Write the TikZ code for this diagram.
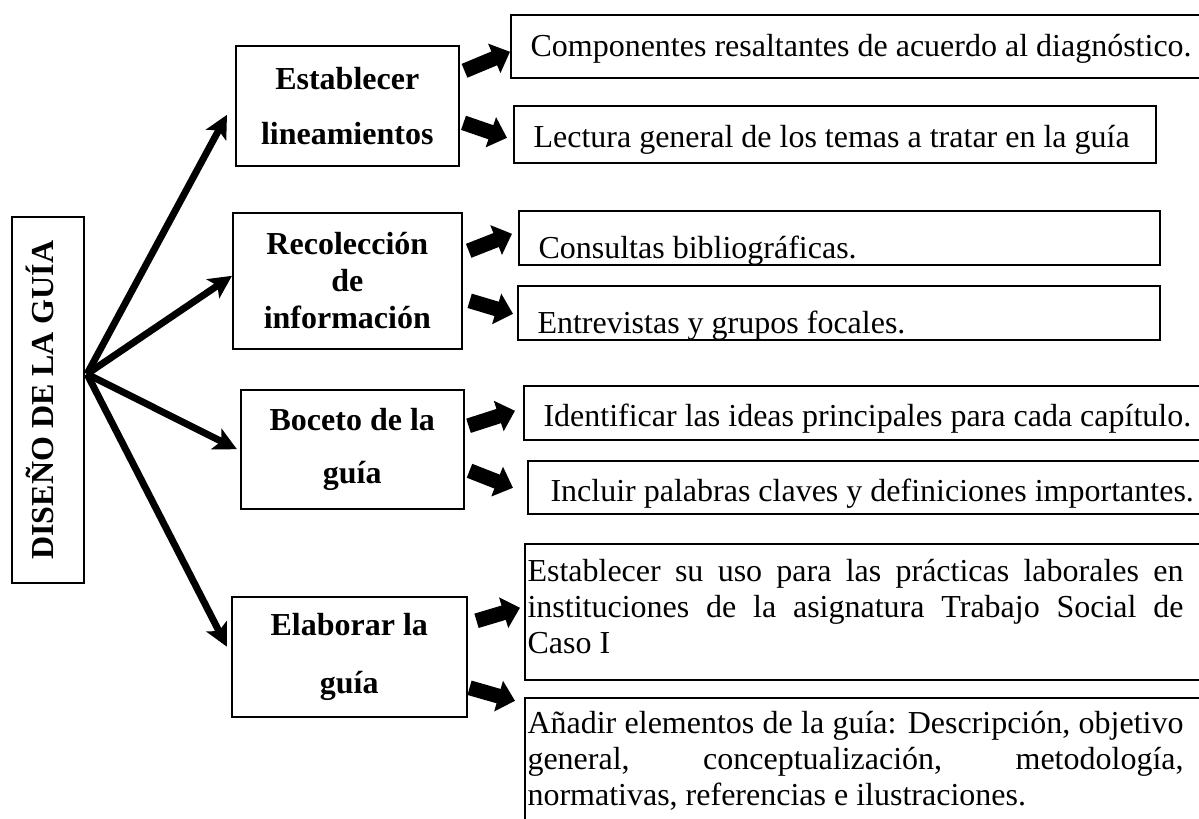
\documentclass[tikz,border=0pt]{standalone}
\usepackage{fontspec}
\setmainfont{Liberation Serif}
\usetikzlibrary{calc,arrows.meta}
\tikzset{
  frame/.style={draw=black, line width=0.6pt, inner sep=0pt},
  topic/.style={frame, anchor=north west, align=center},
  leaf/.style={frame, anchor=north west},
  leaftext/.style={anchor=base west, inner sep=0pt, font=\fontsize{12}{13.5}\selectfont},
  leafpar/.style={leaftext, text width=246pt, align=justify},
  mainarrow/.style={line width=2.6pt, -{Stealth[length=8.6pt,width=8.5pt,inset=2pt]}},
  blockarrow/.style={line width=5.6pt, -{Triangle[length=6.4pt,width=11.6pt]}},
}

\begin{document}
\begin{tikzpicture}[x=0.375pt,y=-0.375pt]
  \useasboundingbox (0,0) rectangle (1199,819);
  \clip (0,0) rectangle (1199,819);

  % root
  \node[frame, rotate=90, minimum width=137.25pt, minimum height=27pt,
    font=\bfseries\fontsize{12}{14}\selectfont, text height=8pt, text depth=4pt]
    (root) at (48,400) {DISEÑO DE LA GUÍA};
  \coordinate (hub) at (87,374);

  % second level
  \node[topic, minimum width=83.6pt, minimum height=45pt,
    font=\bfseries\fontsize{12}{20.6}\selectfont] (est) at (235,45) {Establecer\\lineamientos};
  \node[topic, minimum width=85.9pt, minimum height=51pt,
    font=\bfseries\fontsize{12}{13.9}\selectfont] (rec) at (232,212) {Recolección\\de\\información};
  \node[topic, minimum width=83.6pt, minimum height=44.6pt,
    font=\bfseries\fontsize{12}{19.9}\selectfont] (bos) at (240,389) {Boceto de la\\guía};
  \node[topic, minimum width=88.1pt, minimum height=45pt,
    font=\bfseries\fontsize{12}{21.7}\selectfont] (ela) at (231,596) {Elaborar la\\guía};

  \draw[mainarrow] (hub) -- ($(est.west)+(-8,9)$);
  \draw[mainarrow] (hub) -- ($(rec.west)+(0,-5)$);
  \draw[mainarrow] (hub) -- ($(bos.west)+(-3,0)$);
  \draw[mainarrow] (hub) -- ($(ela.west)+(-4,-10)$);

  % third level
  \node[leaf, minimum width=264.4pt, minimum height=23.6pt] (comp) at (510,14) {};
  \node[leaftext] (comptext) at ($(comp.south west)+(20,-22)$) {Componentes resaltantes de acuerdo al diagnóstico.};
  \node[leaf, minimum width=240.75pt, minimum height=21.4pt] (lect) at (513,105) {};
  \node[leaftext] (lecttext) at ($(lect.south west)+(20,-16)$) {Lectura general de los temas a tratar en la guía};

  \node[leaf, minimum width=240.4pt, minimum height=20.25pt] (cons) at (518,210) {};
  \begin{scope}
    \clip (cons.north west) rectangle (cons.south east);
    \node[leaftext] (constext) at ($(cons.south west)+(20,-7)$) {Consultas bibliográficas.};
  \end{scope}
  \node[leaf, minimum width=240.75pt, minimum height=20.25pt] (entr) at (517,285) {};
  \begin{scope}
    \clip (entr.north west) rectangle (entr.south east);
    \node[leaftext] (entrtext) at ($(entr.south west)+(20,-7)$) {Entrevistas y grupos focales.};
  \end{scope}

  \node[leaf, minimum width=259.5pt, minimum height=20.25pt] (iden) at (523,385) {};
  \begin{scope}
    \clip (iden.north west) rectangle (iden.south east);
    \node[leaftext] (identext) at ($(iden.south west)+(20,-14)$) {Identificar las ideas principales para cada capítulo.};
  \end{scope}
  \node[leaf, minimum width=258pt, minimum height=19.9pt] (incl) at (527,460) {};
  \begin{scope}
    \clip (incl.north west) rectangle (incl.south east);
    \node[leaftext] (incltext) at ($(incl.south west)+(23,-13)$) {Incluir palabras claves y definiciones importantes.};
  \end{scope}

  \node[leaf, minimum width=259pt, minimum height=51pt] (uso) at (524,543) {};
  \node[leafpar] (usotext) at ($(uso.north west)+(3,38)$)
    {\tolerance=10000 \hbadness=10000 \hyphenpenalty=10000
     Establecer su uso para las prácticas laborales en\linebreak
     instituciones de la asignatura Trabajo Social de\linebreak
     Caso I};
  \node[leaf, minimum width=259pt, minimum height=56.25pt] (anad) at (524,697) {};
  \node[leafpar] (anadtext) at ($(anad.north west)+(3,36)$)
    {\tolerance=10000 \hbadness=10000 \hyphenpenalty=10000
     Añadir elementos de la guía: Descripción, objetivo\linebreak
     general, conceptualización, metodología,\linebreak
     normativas, referencias e ilustraciones.};

  % block arrows
  \draw[blockarrow] ($(est.east)+(5,-35)$) -- ($(comp.west)+(0,5.5)$);
  \draw[blockarrow] ($(est.east)+(4,17)$) -- ($(lect.west)+(-6,3.5)$);
  \draw[blockarrow] ($(rec.east)+(6,-30)$) -- ($(cons.west)+(-6,-4)$);
  \draw[blockarrow] ($(rec.east)+(7,20)$) -- ($(entr.west)+(-4,1)$);
  \draw[blockarrow] ($(bos.east)+(4,-23.5)$) -- ($(iden.west)+(-8,-2)$);
  \draw[blockarrow] ($(bos.east)+(5,21.5)$) -- ($(incl.west)+(-14,0.5)$);
  \draw[blockarrow] ($(ela.east)+(9,-36)$) -- ($(uso.west)+(-4,-4)$);
  \draw[blockarrow] ($(ela.east)+(2,31)$) -- ($(anad.west)+(-9,-72)$);
\end{tikzpicture}
\end{document}
